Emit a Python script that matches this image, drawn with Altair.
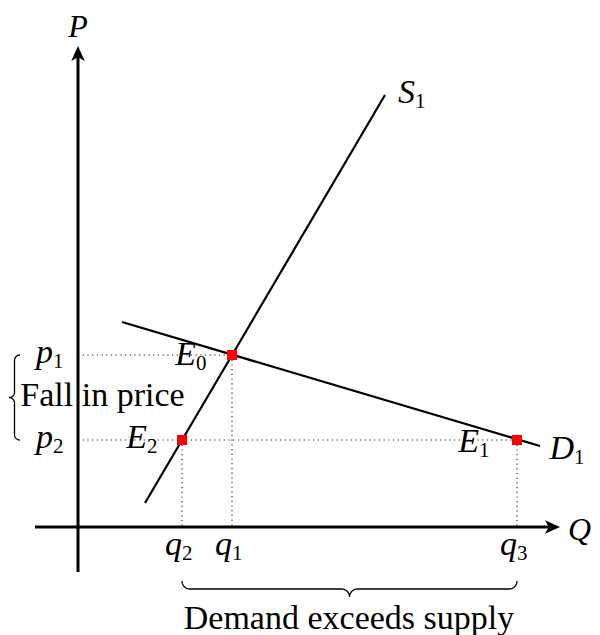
import altair as alt
import pandas as pd
import numpy as np

# ---- data (economic units; 1 unit = 50 px) ----
q_names = ["2", "1", "3"]
q_vals = [2.08, 3.08, 8.78]          # q2, q1, q3
p_names = ["1", "2"]
p_vals = [3.44, 1.74]                # p1, p2
supply_x = [1.34, 6.14]
supply_y = [0.48, 8.64]
demand_x = [0.88, 9.24]
demand_y = [4.10, 1.62]
eq_x = [3.08, 2.08, 8.78]            # E0, E2, E1
eq_y = [3.44, 1.74, 1.74]

# label anchors (letter right of anchor, subscript left of anchor)
lab_main = ["S", "D", "E", "E", "E", "p", "p", "q", "q", "q"]
lab_sub = ["1", "1", "1", "0", "2", "1", "2", "2", "1", "3"]
lab_x = [6.74, 9.92, 8.02, 2.36, 1.38, -0.50, -0.50, 2.08, 3.08, 8.78]
lab_y = [8.48, 1.36, 1.50, 3.24, 1.58, 3.28, 1.58, -0.56, -0.56, -0.56]

W, H = 584, 627
PX = 50.0
X0, Y0 = 78, 527   # page px of origin
xdom = [(8 - X0) / PX, (8 + W - X0) / PX]
ydom = [(Y0 - 8 - H) / PX, (Y0 - 8) / PX]

FONT = "Liberation Serif"


def X(f="x"):
    return alt.X(f"{f}:Q", scale=alt.Scale(domain=xdom, nice=False, zero=False), axis=None)


def Y(f="y"):
    return alt.Y(f"{f}:Q", scale=alt.Scale(domain=ydom, nice=False, zero=False), axis=None)


def brace(L, r, n=24):
    t, d = [], []
    th = np.linspace(0, np.pi / 2, n)
    t += list(r - r * np.cos(th)); d += list(r * np.sin(th))
    t += [L / 2 - r]; d += [r]
    t += list(L / 2 - r + r * np.sin(th)); d += list(2 * r - r * np.cos(th))
    t1 = np.array(t); d1 = np.array(d)
    t_all = np.concatenate([t1, (L - t1)[::-1]])
    d_all = np.concatenate([d1, d1[::-1]])
    return t_all, d_all


# axes
axes_df = pd.DataFrame({
    "x": [-0.86, 0.0], "x2": [9.64 - 0.15, 0.0],
    "y": [0.0, -0.90], "y2": [0.0, 9.62 - 0.15],
})
axes = alt.Chart(axes_df).mark_rule(color="black", strokeWidth=3).encode(
    x=X(), y=Y(), x2="x2:Q", y2="y2:Q")

arrow_df = pd.DataFrame({"x": [9.64 - 0.15, 0.0], "y": [0.0, 9.62 - 0.15], "ang": [0, 270]})
arrows = alt.Chart(arrow_df).mark_point(
    shape="M1,0 L-1,-0.9 L-0.5,0 L-1,0.9 Z", size=225, filled=True,
    color="black", opacity=1, strokeWidth=0).encode(
    x=X(), y=Y(), angle=alt.Angle("ang:Q", scale=None))

# dotted guides
q2, q1, q3 = q_vals
p1, p2 = p_vals
guides_df = pd.DataFrame({
    "x": [0, q1, q2, 0, q3], "x2": [q1, q1, q2, q3, q3],
    "y": [p1, p1, p2, p2, p2], "y2": [p1, 0, 0, p2, 0],
})
guides = alt.Chart(guides_df).mark_rule(
    color="#222", strokeWidth=1.1, strokeDash=[1.2, 3.5]).encode(
    x=X(), y=Y(), x2="x2:Q", y2="y2:Q")

curves_df = pd.DataFrame({
    "x": supply_x + demand_x, "y": supply_y + demand_y,
    "c": ["S", "S", "D", "D"],
})
curves = alt.Chart(curves_df).mark_line(color="black", strokeWidth=2.2).encode(
    x=X(), y=Y(), detail="c:N")

eq_df = pd.DataFrame({"x": eq_x, "y": eq_y})
eqs = alt.Chart(eq_df).mark_square(color="#ff0000", size=100, opacity=1).encode(x=X(), y=Y())

# braces
bt, bd = brace((q3 - q2) * PX, 8)
bb = pd.DataFrame({"x": q2 + bt / PX, "y": -1.08 - bd / PX, "i": np.arange(len(bt)), "b": "bottom"})
lt, ld = brace((p1 - p2) * PX, 5.5)
lb = pd.DataFrame({"x": -1.16 - ld / PX, "y": p2 + lt / PX, "i": np.arange(len(lt)), "b": "left"})
braces = alt.Chart(pd.concat([bb, lb])).mark_line(color="black", strokeWidth=1.3).encode(
    x=X(), y=Y(), order="i:Q", detail="b:N")

# labels
lab_df = pd.DataFrame({"m": lab_main, "s": lab_sub, "x": lab_x, "y": lab_y})
main_txt = alt.Chart(lab_df).mark_text(
    align="right", baseline="alphabetic", font=FONT, fontStyle="italic", fontSize=34).encode(
    x=X(), y=Y(), text="m:N")
sub_txt = alt.Chart(lab_df).mark_text(
    align="left", baseline="alphabetic", font=FONT, fontSize=21, dy=5).encode(
    x=X(), y=Y(), text="s:N")

ax_lab = pd.DataFrame({"t": ["P", "Q"], "x": [0.0, 9.80], "y": [9.80, -0.26]})
pl = alt.Chart(ax_lab.iloc[[0]]).mark_text(
    align="center", baseline="alphabetic", font=FONT, fontStyle="italic", fontSize=32).encode(
    x=X(), y=Y(), text="t:N")
ql = alt.Chart(ax_lab.iloc[[1]]).mark_text(
    align="left", baseline="alphabetic", font=FONT, fontStyle="italic", fontSize=32).encode(
    x=X(), y=Y(), text="t:N")

notes = pd.DataFrame({"t": ["Fall in price", "Demand exceeds supply"],
                      "x": [0.49, 5.42], "y": [2.42, -2.04]})
note_txt = alt.Chart(notes).mark_text(
    align="center", baseline="alphabetic", font=FONT, fontSize=34).encode(
    x=X(), y=Y(), text="t:N")

chart = alt.layer(guides, curves, axes, arrows, eqs, braces, main_txt, sub_txt, pl, ql, note_txt).properties(
    width=W, height=H, padding=0, autosize=alt.AutoSizeParams(type="none")
).configure_view(stroke=None)

chart.save("out.html", embed_options={"renderer": "svg", "actions": False})
